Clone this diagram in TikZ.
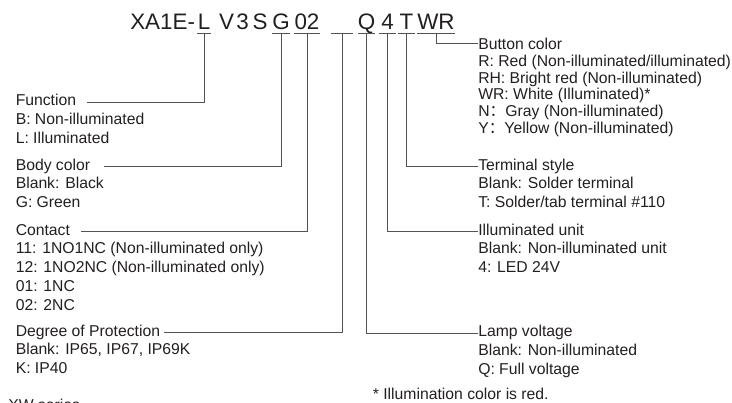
\documentclass[tikz,border=0pt]{standalone}
\usepackage{fontspec}
\setmainfont{Liberation Sans}
\newfontfamily\cjkfont{Noto Sans CJK SC}
\usetikzlibrary{positioning}
\definecolor{ink}{RGB}{35,31,32}
\definecolor{leadgray}{RGB}{85,80,82}

\begin{document}
\begin{tikzpicture}[
  x=0.75pt,
  y=-0.75pt,
  every node/.style={text=ink},
  lead/.style={line width=0.6pt, draw=leadgray},
  code/.style={font=\fontsize{16.8}{20}\selectfont, inner sep=0pt, anchor=base, text height=12pt, text depth=3pt},
  head/.style={font=\fontsize{11.8}{14.25}\selectfont, inner sep=0pt, anchor=base west, text height=8.4pt, text depth=3.2pt},
  items/.style={font=\fontsize{11.8}{14.25}\selectfont, align=left, inner sep=0pt, anchor=north west, execute at begin node=\rule{0pt}{9pt}},
]
\useasboundingbox (0,0) rectangle (732,403);

\node[code, anchor=base west] (pre) at (130,29.3) {XA1E-};
\node[code] (cV) at (226.5,29.3) {V};
\node[code] (c3) at (242.5,29.3) {3};
\node[code] (cS) at (260,29.3) {S};

\foreach \nm/\cx/\ulen/\txt in {cL/204/14/L, cG/281/15/G, cK/307/23/02, cP/342/21/{}, cQ/366.5/17/Q, cU/387.5/16/4, cT/406.5/17/T, cW/436/32/WR}{
  \node[code, minimum width=\ulen*0.75pt] (\nm) at (\cx,29.3) {\txt};
  \draw[lead] (\nm.south west) -- (\nm.south east);
}

\node[head] (fn) at (15.5,106) {Function};
\node[items] (fnl) at ([yshift=-5.25pt]fn.base west) {B: Non-illuminated\\L: Illuminated};
\node[head] (bc) at (15.5,170) {Body color};
\node[items] (bcl) at ([yshift=-5.25pt]bc.base west) {Blank: Black\\G: Green};
\node[head] (ct) at (15.5,235) {Contact};
\node[items] (ctl) at ([yshift=-5.25pt]ct.base west) {11: 1NO1NC (Non-illuminated only)\\12: 1NO2NC (Non-illuminated only)\\01: 1NC\\02: 2NC};
\node[head] (dp) at (15.5,336) {Degree of Protection};
\node[items] (dpl) at ([yshift=-5.25pt]dp.base west) {Blank: IP65, IP67, IP69K\\K: IP40};
\node[head] (xw) at (8,410) {XW series};

\node[head] (btn) at (478,50) {Button color};
\node[items, font=\fontsize{11.8}{12.5}\selectfont] (btnl) at ([yshift=-3.5pt]btn.base west) {R: Red (Non-illuminated/illuminated)\\RH: Bright red (Non-illuminated)\\WR: White (Illuminated)*\\N{\cjkfont ：}Gray (Non-illuminated)\\Y{\cjkfont ：}Yellow (Non-illuminated)};
\node[head] (ts) at (478,170) {Terminal style};
\node[items] (tsl) at ([yshift=-5.25pt]ts.base west) {Blank: Solder terminal\\T: Solder/tab terminal \#110};
\node[head] (iu) at (478,235) {Illuminated unit};
\node[items] (iul) at ([yshift=-5.25pt]iu.base west) {Blank: Non-illuminated unit\\4: LED 24V};
\node[head] (lv) at (478,336.7) {Lamp voltage};
\node[items] (lvl) at ([yshift=-5.25pt]lv.base west) {Blank: Non-illuminated\\Q: Full voltage};
\node[head] (note) at (372.6,399) {* Illumination color is red.};

\draw[lead] (cL.south) |- ([xshift=8pt]fn.east);
\draw[lead] (cG.south) |- ([xshift=10pt]bc.east);
\draw[lead] (cK.south) |- ([xshift=8pt]ct.east);
\draw[lead] (cP.south) |- ([xshift=3pt]dp.east);
\draw[lead] (cW.south) |- ([yshift=2.4pt]btn.west);
\draw[lead] (cT.south) |- (ts.west);
\draw[lead] (cU.south) |- (iu.west);
\draw[lead] (cQ.south) |- (lv.west);

\end{tikzpicture}
\end{document}
